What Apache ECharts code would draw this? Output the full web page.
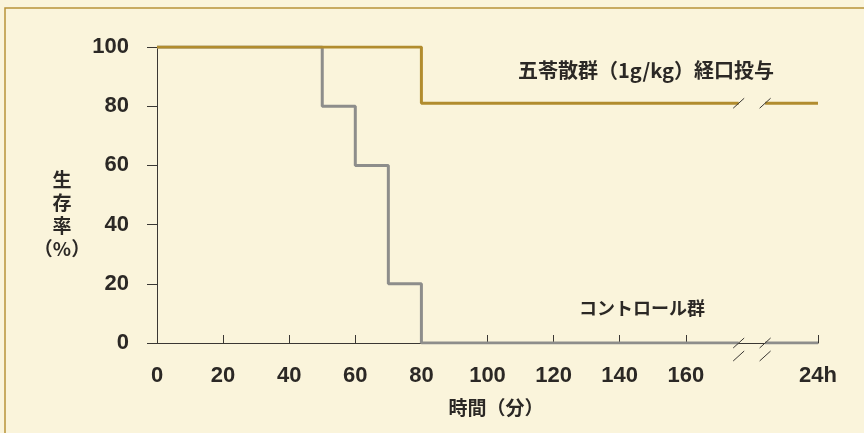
<!DOCTYPE html>
<html>
<head>
<meta charset="utf-8">
<script src="https://cdn.jsdelivr.net/npm/echarts@6/dist/echarts.min.js"></script>
<style>
html,body{margin:0;padding:0;background:#FAF4DB;}
#chart{width:864px;height:433px;}
</style>
</head>
<body>
<div id="chart"></div>
<script>
// ---- data ----
const controlTimes = [0, 50, 60, 70, 80];          // minutes
const controlSurvival = [100, 80, 60, 20, 0];      // %
const goreisanTimes = [0, 80];                     // minutes
const goreisanSurvival = [100, 81];                // %
const xTickValues = [0, 20, 40, 60, 80, 100, 120, 140, 160, 200];
const xTickLabels = ['0', '20', '40', '60', '80', '100', '120', '140', '160', '24h'];
const yTickValues = [0, 20, 40, 60, 80, 100];
const axisEnd = 200;        // position of the "24h" point on the axis
const breakStart = 176;     // axis break (minutes → 24h)
const breakEnd = 184;
const goreisanLabel = '五苓散群（1g/kg）経口投与';
const controlLabel = 'コントロール群';
const xName = '時間（分）';
const yName = '生\n存\n率\n（%）';

// ---- build series data ----
function before(times, vals) {
  const d = times.map((t, i) => [t, vals[i]]);
  d.push([breakStart, vals[vals.length - 1]]);
  return d;
}
function after(vals) {
  const v = vals[vals.length - 1];
  return [[breakEnd, v], [axisEnd, v]];
}

const BG = '#FAF4DB';
const GOLD = '#B18C2E';
const GREY = '#8D8D8B';
const TXT = '#2B2825';
const AXIS = '#3A3733';
const X_OFFSET = 13;
const FONT = "'Liberation Sans', 'Noto Sans CJK JP', sans-serif";
const CJK = "'Noto Sans CJK JP', 'Liberation Sans', sans-serif";

const chart = echarts.init(document.getElementById('chart'));

const breakData = [
  [breakStart, goreisanSurvival[goreisanSurvival.length - 1], 0],
  [breakEnd, goreisanSurvival[goreisanSurvival.length - 1], 0],
  [breakStart, controlSurvival[controlSurvival.length - 1], 0],
  [breakEnd, controlSurvival[controlSurvival.length - 1], 0],
  [breakStart, 0, 1],
  [breakEnd, 0, 1]
];

const option = {
  backgroundColor: BG,
  animation: false,
  grid: { left: 157, right: 46, top: 47, bottom: 90 },
  xAxis: {
    type: 'value', min: 0, max: axisEnd, offset: X_OFFSET,
    splitLine: { show: false },
    axisLine: { show: true, lineStyle: { color: AXIS, width: 1 } },
    axisTick: { show: true, inside: true, length: 8, customValues: xTickValues, lineStyle: { color: AXIS } },
    axisLabel: {
      customValues: xTickValues, margin: 9,
      formatter: v => xTickLabels[xTickValues.indexOf(v)],
      color: TXT, fontSize: 22, fontWeight: 'bold', fontFamily: FONT
    }
  },
  yAxis: {
    type: 'value', min: 0, max: 100, interval: 20,
    splitLine: { show: false },
    axisLine: { show: true, lineStyle: { color: AXIS, width: 1 } },
    axisTick: { show: true, inside: false, length: 10, lineStyle: { color: AXIS } },
    axisLabel: { margin: 28, color: TXT, fontSize: 22, fontWeight: 'bold', fontFamily: FONT }
  },
  series: [
    { type: 'line', step: 'end', data: before(controlTimes, controlSurvival), symbol: 'none',
      lineStyle: { color: GREY, width: 3 }, z: 3 },
    { type: 'line', data: after(controlSurvival), symbol: 'none',
      lineStyle: { color: GREY, width: 3 }, z: 3 },
    { type: 'line', step: 'end', data: before(goreisanTimes, goreisanSurvival), symbol: 'none',
      lineStyle: { color: GOLD, width: 3 }, z: 4 },
    { type: 'line', data: after(goreisanSurvival), symbol: 'none',
      lineStyle: { color: GOLD, width: 3 }, z: 4 },
    {
      type: 'custom', z: 6, clip: false, silent: true,
      data: breakData,
      renderItem: function (params, api) {
        const p = api.coord([api.value(0), api.value(1)]);
        const isAxis = api.value(2) === 1;
        const y = p[1] + (isAxis ? X_OFFSET : 0);
        const children = [];
        if (isAxis && api.value(0) === breakStart) {
          const q = api.coord([breakEnd, 0]);
          children.push({ type: 'rect', shape: { x: p[0], y: y - 2, width: q[0] - p[0], height: 4 },
            style: { fill: BG } });
        }
        children.push({ type: 'line',
          shape: { x1: p[0] - 5.5, y1: y + 5, x2: p[0] + 5.5, y2: y - 5 },
          style: { stroke: AXIS, lineWidth: 1 } });
        return { type: 'group', children: children };
      }
    }
  ],
  graphic: [
    { type: 'rect', shape: { x: 5, y: 8, width: 1000, height: 600 },
      style: { fill: null, stroke: '#B8923A', lineWidth: 1.5 }, z: 100 },
    { type: 'text', x: 646, y: 70,
      style: { text: goreisanLabel, fill: TXT, font: 'bold 20px ' + CJK, textAlign: 'center', textVerticalAlign: 'middle' } },
    { type: 'text', x: 642, y: 308,
      style: { text: controlLabel, fill: TXT, font: 'bold 18px ' + CJK, textAlign: 'center', textVerticalAlign: 'middle' } },
    { type: 'text', x: 496, y: 408,
      style: { text: xName, fill: TXT, font: 'bold 19px ' + CJK, textAlign: 'center', textVerticalAlign: 'middle' } },
    { type: 'text', x: 62, y: 214,
      style: { text: yName, fill: TXT, font: 'bold 19px ' + CJK, textAlign: 'center', textVerticalAlign: 'middle', lineHeight: 23 } }
  ]
};
chart.setOption(option);
</script>
</body>
</html>
